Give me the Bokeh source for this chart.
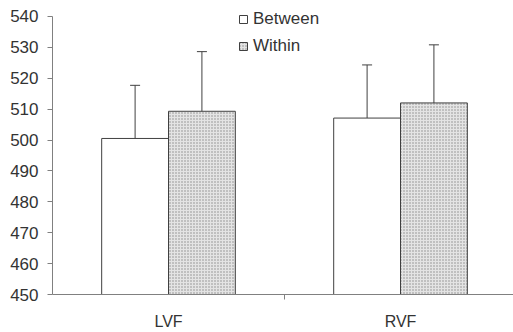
import numpy as np
from bokeh.plotting import figure
from bokeh.models import Range1d, FixedTicker, Whisker, TeeHead, ColumnDataSource, Legend, LegendItem
from bokeh.embed import file_html
from bokeh.resources import INLINE

categories = ["LVF", "RVF"]
between = [500.5, 507.1]
between_upper = [517.7, 524.3]
between_lower = [483.9, 490.3]
within = [509.3, 512.0]
within_upper = [528.6, 530.8]
within_lower = [490.6, 493.1]
y_ticks = [450, 460, 470, 480, 490, 500, 510, 520, 530, 540]

centers = np.arange(len(categories)) + 0.5
bw = 0.288
xb = centers - bw / 2
xw = centers + bw / 2

src_b = ColumnDataSource(dict(x=xb, top=between, upper=between_upper, lower=between_lower))
src_w = ColumnDataSource(dict(x=xw, top=within, upper=within_upper, lower=within_lower))

p = figure(width=513, height=332, x_range=Range1d(0, 1.987), y_range=Range1d(450, 545.15),
           output_backend="svg", toolbar_location=None,
           min_border_left=52, min_border_right=0, min_border_top=0, min_border_bottom=37)
p.background_fill_color = "white"
p.border_fill_color = "white"
p.outline_line_color = None
p.xgrid.visible = False
p.ygrid.visible = False

rb = p.vbar(x="x", top="top", bottom=450, width=bw, source=src_b,
            fill_color="white", line_color="#404040", line_width=1)
rw = p.vbar(x="x", top="top", bottom=450, width=bw, source=src_w,
            fill_color="#e4e4e4", line_color="#404040", line_width=1,
            hatch_pattern="dot", hatch_color="#8a8a8a", hatch_scale=3, hatch_weight=1)

for src in (src_b, src_w):
    w = Whisker(base="x", upper="upper", lower="lower", source=src, dimension="height",
                line_color="#404040", line_width=1,
                upper_head=TeeHead(size=10, line_color="#404040", line_width=1),
                lower_head=TeeHead(size=10, line_color="#404040", line_width=1))
    p.add_layout(w)

legend = Legend(items=[LegendItem(label="Between", renderers=[rb]),
                       LegendItem(label="Within", renderers=[rw])],
                location=(186, 238), orientation="vertical")
legend.glyph_width = 10
legend.glyph_height = 10
legend.label_height = 20
legend.spacing = 7
legend.padding = 0
legend.margin = 0
legend.label_standoff = 5
legend.border_line_color = None
legend.background_fill_alpha = 0
legend.label_text_font = "Liberation Sans"
legend.label_text_font_size = "17px"
legend.label_text_color = "#333333"
p.add_layout(legend, "center")

# axes
xa = p.xaxis[0]
xa.ticker = FixedTicker(ticks=list(centers), minor_ticks=[1.0])
xa.major_label_overrides = {float(c): lab for c, lab in zip(centers, categories)}
xa.major_tick_out = 0
xa.major_tick_in = 0
xa.minor_tick_out = 5
xa.minor_tick_in = 0
xa.minor_tick_line_color = "#808080"
xa.axis_line_color = "#808080"
xa.major_label_standoff = 13
xa.major_label_text_font = "Liberation Sans"
xa.major_label_text_font_size = "16px"
xa.major_label_text_color = "#333333"

ya = p.yaxis[0]
ya.ticker = FixedTicker(ticks=y_ticks)
ya.bounds = (450, 540)
ya.major_tick_out = 5
ya.major_tick_in = 0
ya.minor_tick_line_color = None
ya.axis_line_color = "#808080"
ya.major_tick_line_color = "#808080"
ya.major_label_standoff = 9
ya.major_label_text_font = "Liberation Sans"
ya.major_label_text_font_size = "17px"
ya.major_label_text_color = "#333333"

open("out.html", "w").write(file_html(p, INLINE))
